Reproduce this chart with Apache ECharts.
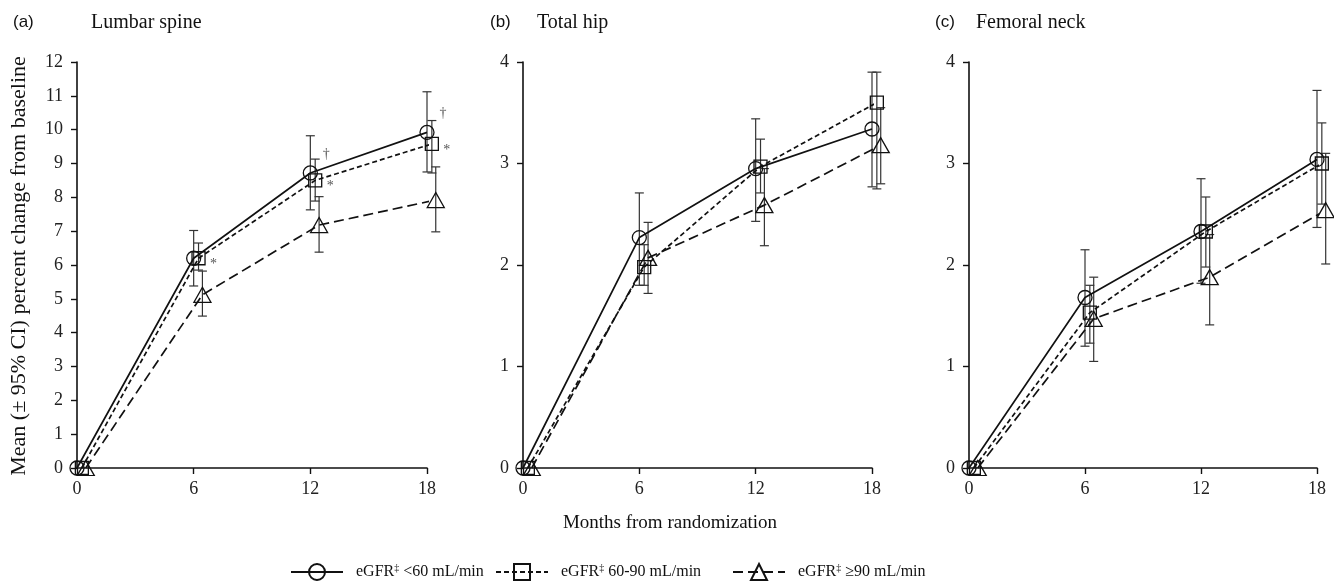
<!DOCTYPE html>
<html>
<head>
<meta charset="utf-8">
<script src="https://cdn.jsdelivr.net/npm/echarts@6/dist/echarts.min.js"></script>
<style>
html,body{margin:0;padding:0;background:#fff;}
#chart{width:1334px;height:585px;}
</style>
</head>
<body>
<div id="chart"></div>
<script>
// ---------- data ----------
const months = [0, 6, 12, 18];
const seriesNames = ['eGFR‡ <60 mL/min', 'eGFR‡ 60-90 mL/min', 'eGFR‡ ≥90 mL/min'];
const panelTags = ['(a)', '(b)', '(c)'];
const panelTitles = ['Lumbar spine', 'Total hip', 'Femoral neck'];
const yMaxes = [12, 4, 4];

// Lumbar spine
const lumbar_lt60 = [0, 6.2, 8.72, 9.92];
const lumbar_lt60_lo = [0, 5.38, 7.63, 8.75];
const lumbar_lt60_hi = [0, 7.02, 9.82, 11.12];
const lumbar_60_90 = [0, 6.2, 8.5, 9.58];
const lumbar_60_90_lo = [0, 5.85, 7.89, 8.72];
const lumbar_60_90_hi = [0, 6.65, 9.13, 10.27];
const lumbar_ge90 = [0, 5.12, 7.18, 7.92];
const lumbar_ge90_lo = [0, 4.49, 6.38, 6.98];
const lumbar_ge90_hi = [0, 5.82, 8.02, 8.9];
const lumbar_lt60_marks = ['', '', '†', '†'];
const lumbar_60_90_marks = ['', '*', '*', '*'];

// Total hip
const hip_lt60 = [0, 2.27, 2.95, 3.34];
const hip_lt60_lo = [0, 1.8, 2.43, 2.77];
const hip_lt60_hi = [0, 2.71, 3.44, 3.9];
const hip_60_90 = [0, 1.98, 2.97, 3.6];
const hip_60_90_lo = [0, 1.8, 2.71, 2.75];
const hip_60_90_hi = [0, 2.2, 3.24, 3.9];
const hip_ge90 = [0, 2.07, 2.59, 3.18];
const hip_ge90_lo = [0, 1.72, 2.19, 2.8];
const hip_ge90_hi = [0, 2.42, 2.95, 3.55];

// Femoral neck
const neck_lt60 = [0, 1.68, 2.33, 3.04];
const neck_lt60_lo = [0, 1.2, 1.82, 2.37];
const neck_lt60_hi = [0, 2.15, 2.85, 3.72];
const neck_60_90 = [0, 1.53, 2.33, 3.0];
const neck_60_90_lo = [0, 1.23, 1.98, 2.6];
const neck_60_90_hi = [0, 1.8, 2.67, 3.4];
const neck_ge90 = [0, 1.47, 1.88, 2.54];
const neck_ge90_lo = [0, 1.05, 1.41, 2.01];
const neck_ge90_hi = [0, 1.88, 2.3, 3.1];

// ---------- styling / layout ----------
const jitter = [0, 0.25, 0.45];
const SERIF = '"Liberation Serif","Times New Roman",serif';
const SANS = '"Liberation Sans",Arial,sans-serif';
const grids = [
  {left: 77, top: 62, width: 350, height: 406},
  {left: 523, top: 62, width: 349, height: 406},
  {left: 969, top: 62, width: 348, height: 406}
];
const symbols = [
  {symbol: 'circle', size: 14, dash: 'solid'},
  {symbol: 'rect', size: 13, dash: [5, 3]},
  {symbol: 'triangle', size: [17, 15], dash: [10, 5]}
];

const panels = [
  {vals: [lumbar_lt60, lumbar_60_90, lumbar_ge90],
   lo: [lumbar_lt60_lo, lumbar_60_90_lo, lumbar_ge90_lo],
   hi: [lumbar_lt60_hi, lumbar_60_90_hi, lumbar_ge90_hi],
   marks: [lumbar_lt60_marks, lumbar_60_90_marks, null]},
  {vals: [hip_lt60, hip_60_90, hip_ge90],
   lo: [hip_lt60_lo, hip_60_90_lo, hip_ge90_lo],
   hi: [hip_lt60_hi, hip_60_90_hi, hip_ge90_hi],
   marks: [null, null, null]},
  {vals: [neck_lt60, neck_60_90, neck_ge90],
   lo: [neck_lt60_lo, neck_60_90_lo, neck_ge90_lo],
   hi: [neck_lt60_hi, neck_60_90_hi, neck_ge90_hi],
   marks: [null, null, null]}
];
const markOffsets = [[16, -19], [15, 6], [0, 0]];

const xAxes = [], yAxes = [], series = [];
grids.forEach((g, p) => {
  xAxes.push({
    type: 'value', gridIndex: p, min: 0, max: 18, interval: 6,
    axisLine: {lineStyle: {color: '#111', width: 1.6}},
    axisTick: {length: 6, lineStyle: {color: '#111', width: 1.4}},
    axisLabel: {color: '#222', fontFamily: SERIF, fontSize: 18, margin: 12},
    splitLine: {show: false}
  });
  yAxes.push({
    type: 'value', gridIndex: p, min: 0, max: yMaxes[p], interval: 1,
    axisLine: {show: true, lineStyle: {color: '#111', width: 1.6}},
    axisTick: {show: true, length: 6, lineStyle: {color: '#111', width: 1.4}},
    axisLabel: {color: '#222', fontFamily: SERIF, fontSize: 18, margin: 14},
    splitLine: {show: false}
  });
  const P = panels[p];
  for (let k = 0; k < 3; k++) {
    // error bars
    series.push({
      type: 'custom', xAxisIndex: p, yAxisIndex: p, z: 1, silent: true, clip: false,
      data: months.map((m, i) => [m + jitter[k], P.lo[k][i], P.hi[k][i]]),
      encode: {x: 0, y: [1, 2]},
      renderItem: function (params, api) {
        const x = api.value(0), lo = api.value(1), hi = api.value(2);
        if (hi === lo) return null;
        const a = api.coord([x, hi]), b = api.coord([x, lo]);
        const w = 4.5;
        const st = {stroke: '#333', lineWidth: 1.2};
        return {type: 'group', children: [
          {type: 'line', shape: {x1: a[0], y1: a[1], x2: b[0], y2: b[1]}, style: st},
          {type: 'line', shape: {x1: a[0] - w, y1: a[1], x2: a[0] + w, y2: a[1]}, style: st},
          {type: 'line', shape: {x1: b[0] - w, y1: b[1], x2: b[0] + w, y2: b[1]}, style: st}
        ]};
      }
    });
    // lines + markers
    const marks = P.marks[k];
    series.push({
      name: seriesNames[k], type: 'line', xAxisIndex: p, yAxisIndex: p, z: 3, clip: false,
      symbol: symbols[k].symbol, symbolSize: symbols[k].size, showAllSymbol: true,
      lineStyle: {color: '#111', width: 1.7, type: symbols[k].dash},
      itemStyle: {color: 'rgba(255,255,255,0)', borderColor: '#111', borderWidth: 1.3},
      emphasis: {disabled: true},
      data: months.map((m, i) => {
        const item = {value: [m + jitter[k], P.vals[k][i]]};
        if (marks && marks[i]) {
          item.label = {show: true, formatter: marks[i], position: 'inside', offset: markOffsets[k],
                        color: '#555', fontFamily: SERIF, fontSize: 14};
        }
        return item;
      })
    });
  }
});

const graphic = [];
grids.forEach((g, p) => {
  const tagX = [13, 490, 935][p];
  const titleX = [91, 537, 976][p];
  graphic.push({type: 'text', left: tagX, top: 14,
    style: {text: panelTags[p], font: '17px ' + SANS, fill: '#111'}});
  graphic.push({type: 'text', left: titleX, top: 13,
    style: {text: panelTitles[p], font: '20px ' + SERIF, fill: '#111'}});
});
graphic.push({type: 'text', x: 19, y: 266, rotation: Math.PI / 2,
  style: {text: 'Mean (± 95% CI) percent change from baseline', font: '22px ' + SERIF,
          fill: '#111', align: 'center', verticalAlign: 'middle'}});
graphic.push({type: 'text', x: 670, y: 523,
  style: {text: 'Months from randomization', font: '19px ' + SERIF,
          fill: '#111', align: 'center', verticalAlign: 'middle'}});

const legendLefts = [285, 490, 727];
const legends = seriesNames.map((n, k) => ({
  data: [n], left: legendLefts[k], top: 558, orient: 'horizontal',
  itemWidth: 52, itemHeight: 20, selectedMode: false,
  textStyle: {fontFamily: SERIF, fontSize: 16, color: '#111', padding: [0, 0, 0, 8],
    rich: {
      t: {fontFamily: SERIF, fontSize: 16, color: '#111'},
      s: {fontFamily: SERIF, fontSize: 10, color: '#111', verticalAlign: 'top', padding: [0, 0, 8, 0]}
    }},
  formatter: name => '{t|eGFR}{s|‡}{t| ' + name.replace('eGFR‡ ', '') + '}'
}));

const chart = echarts.init(document.getElementById('chart'), null, {renderer: 'canvas'});
chart.setOption({
  animation: false,
  backgroundColor: '#fff',
  grid: grids,
  xAxis: xAxes,
  yAxis: yAxes,
  legend: legends,
  graphic: graphic,
  series: series
});
</script>
</body>
</html>
